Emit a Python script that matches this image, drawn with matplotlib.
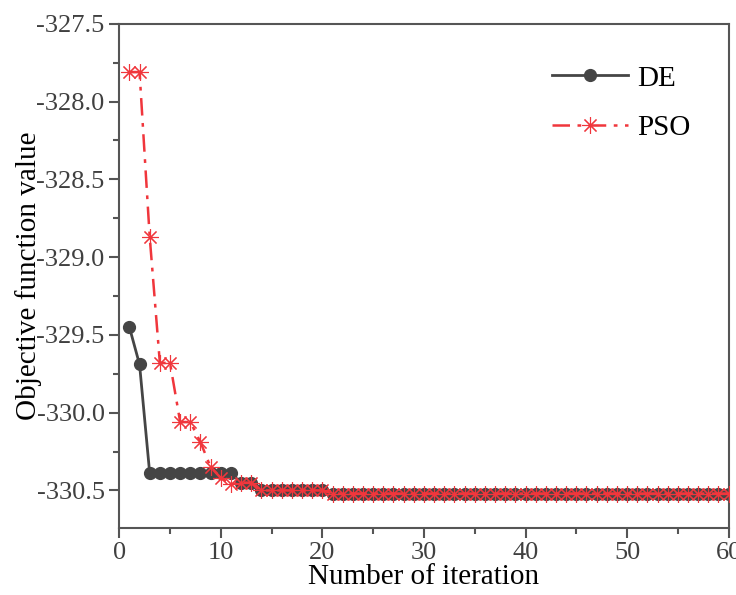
import numpy as np
import matplotlib.pyplot as plt
from matplotlib.ticker import MultipleLocator

# iteration values
iters = list(range(1, 61))
de_vals = ([-329.45, -329.69] + [-330.39] * 9 + [-330.45] * 2
           + [-330.50] * 7 + [-330.52] * 40)
pso_vals = ([-327.81, -327.81, -328.87, -329.68, -329.68, -330.06, -330.06,
             -330.19, -330.35, -330.42, -330.46, -330.45, -330.45]
            + [-330.50] * 7 + [-330.52] * 40)

plt.rcParams['font.family'] = ['Liberation Serif', 'DejaVu Serif']

fig = plt.figure(figsize=(7.36, 5.95), dpi=100)
ax = fig.add_axes([0.162, 0.113, 0.828, 0.847])

ax.plot(iters, de_vals, color="#454545", lw=2, marker="o", ms=8.5,
        label="DE", zorder=2)
ax.plot(iters, pso_vals, color="#f0363c", lw=1.8, dashes=(7, 3, 1.5, 3),
        marker=(8, 2, 0), ms=12, mew=0.8, label="PSO", zorder=3)

ax.set_xlim(0, 60)
ax.xaxis.set_major_locator(MultipleLocator(10))
ax.xaxis.set_minor_locator(MultipleLocator(5))
yt = [-330.5, -330.0, -329.5, -329.0, -328.5, -328.0, -327.5]
ax.set_yticks(yt)
ax.set_yticklabels([f"{v:.1f}" for v in yt])
ax.yaxis.set_minor_locator(MultipleLocator(0.25))
ax.set_ylim(-330.74, -327.5)

for s in ax.spines.values():
    s.set_color("#555555")
    s.set_linewidth(1.5)
ax.tick_params(which="both", direction="out", color="#555555", width=1.5,
               labelsize=19, labelcolor="#404040", top=False, right=False)
ax.tick_params(which="major", length=7)
ax.tick_params(axis="x", which="major", pad=3)
ax.tick_params(which="minor", length=4)

ax.set_xlabel("Number of iteration", fontsize=21, labelpad=0)
ax.set_ylabel("Objective function value", fontsize=21, labelpad=-4)

ax.legend(loc="upper right", bbox_to_anchor=(0.98, 0.97), frameon=False,
          fontsize=21, handlelength=2.6, handletextpad=0.3, labelspacing=0.8)

fig.savefig("out.png", dpi=100)
